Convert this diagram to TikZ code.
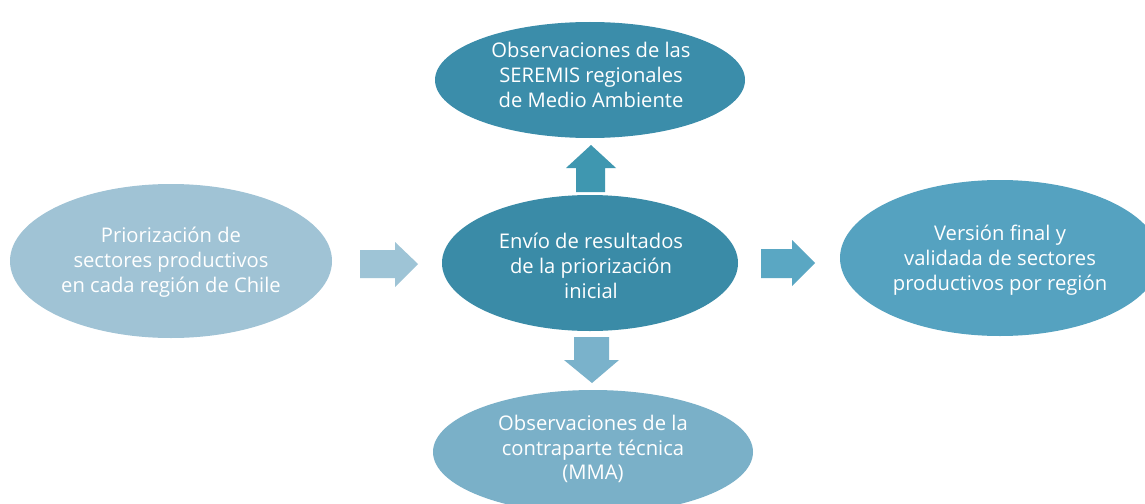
\documentclass[tikz,border=0pt]{standalone}
\usepackage{fontspec}
\setmainfont{Open Sans}
\usetikzlibrary{shapes.geometric}
\definecolor{cLeft}{HTML}{A0C3D5}
\definecolor{cTop}{HTML}{3B8DAA}
\definecolor{cMid}{HTML}{3A8BA7}
\definecolor{cRight}{HTML}{55A2C0}
\definecolor{cBot}{HTML}{7AB0C8}
\definecolor{aLeft}{HTML}{9EC4D6}
\definecolor{aUp}{HTML}{3F97B0}
\definecolor{aDown}{HTML}{7AB2CB}
\definecolor{aRight}{HTML}{5AA7C3}
\tikzset{
  blob/.style={ellipse, inner sep=0pt},
  txt/.style={inner sep=0pt, text=white, align=center,
    font=\fontsize{20.2}{24.8}\selectfont},
}
\begin{document}
\begin{tikzpicture}[x=1pt,y=-1pt]
\clip (0,0) rectangle (1145,503);
\fill[white] (0,0) rectangle (1145,503);
\node[blob, fill=cLeft, minimum width=322pt, minimum height=154pt] (prior) at (171,261) {};
\node[txt] (priort) at (171,262) {Priorización de\\sectores productivos\\en cada región de Chile};
\node[blob, fill=cTop, minimum width=310pt, minimum height=116pt] (seremi) at (590,80) {};
\node[txt] (seremit) at (591,75) {Observaciones de las\\SEREMIS regionales\\de Medio Ambiente};
\node[blob, fill=cMid, minimum width=296pt, minimum height=136pt] (envio) at (590,263) {};
\node[txt] (enviot) at (591,266) {Envío de resultados\\de la priorización\\inicial};
\node[blob, fill=cRight, minimum width=320pt, minimum height=156pt] (final) at (1000,258) {};
\node[txt] (finalt) at (1000,260) {Versión final y\\validada de sectores\\productivos por región};
\node[blob, fill=cBot, minimum width=320pt, minimum height=124pt] (contra) at (593,452) {};
\node[txt] (contrat) at (593,449) {Observaciones de la\\contraparte técnica\\(MMA)};
% block arrows
\fill[aLeft] (360,250) -- (395,250) -- (395,242) -- (418,264) -- (395,287) -- (395,278) -- (360,278) -- cycle;
\fill[aUp] (576,192) -- (576,168) -- (566,168) -- (591,145) -- (616,168) -- (605,168) -- (605,192) -- cycle;
\fill[aDown] (574,337) -- (609,337) -- (609,360) -- (619,360) -- (592,383) -- (564,360) -- (574,360) -- cycle;
\fill[aRight] (761,249) -- (792,249) -- (792,240) -- (815,263) -- (792,286) -- (792,278) -- (761,278) -- cycle;
\end{tikzpicture}
\end{document}
